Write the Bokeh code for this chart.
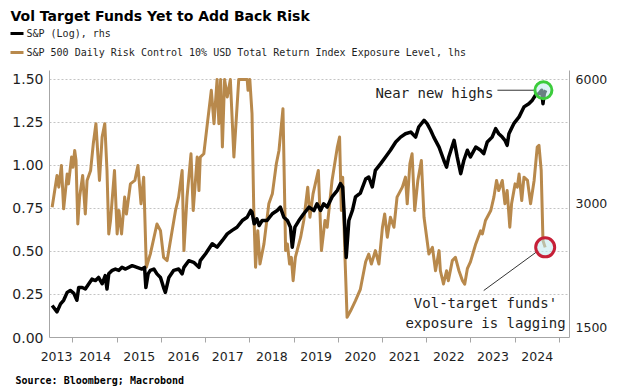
from bokeh.plotting import figure
from bokeh.layouts import column
from bokeh.models import (Range1d, LogScale, LogAxis, FixedTicker, CustomJSTickFormatter,
                          NumeralTickFormatter, Label)
from bokeh.embed import file_html
from bokeh.resources import INLINE

# ---------------- data ----------------
sp_years = [2013.53, 2013.64, 2013.72, 2013.79, 2013.87, 2013.94, 2014.02, 2014.09, 2014.13, 2014.21,
            2014.28, 2014.36, 2014.43, 2014.51, 2014.58, 2014.66, 2014.73, 2014.77, 2014.81, 2014.89,
            2014.96, 2015.04, 2015.11, 2015.19, 2015.34, 2015.45, 2015.56, 2015.62, 2015.65, 2015.70,
            2015.75, 2015.83, 2015.90, 2015.98, 2016.05, 2016.09, 2016.17, 2016.28, 2016.39, 2016.47,
            2016.51, 2016.62, 2016.73, 2016.85, 2016.88, 2017.00, 2017.15, 2017.26, 2017.38, 2017.49,
            2017.60, 2017.71, 2017.83, 2017.94, 2018.02, 2018.05, 2018.10, 2018.16, 2018.21, 2018.28,
            2018.39, 2018.51, 2018.62, 2018.69, 2018.77, 2018.85, 2018.92, 2018.96, 2019.02, 2019.11,
            2019.22, 2019.34, 2019.45, 2019.52, 2019.60, 2019.67, 2019.75, 2019.86, 2019.98, 2020.05,
            2020.10, 2020.13, 2020.18, 2020.24, 2020.32, 2020.39, 2020.50, 2020.62, 2020.69, 2020.77,
            2020.84, 2020.96, 2021.07, 2021.18, 2021.30, 2021.41, 2021.52, 2021.64, 2021.75, 2021.82,
            2021.94, 2022.01, 2022.09, 2022.16, 2022.28, 2022.39, 2022.45, 2022.50, 2022.62, 2022.69,
            2022.77, 2022.84, 2022.92, 2022.99, 2023.03, 2023.11, 2023.22, 2023.29, 2023.37, 2023.48,
            2023.56, 2023.63, 2023.71, 2023.77, 2023.82, 2023.86, 2023.97, 2024.09, 2024.20, 2024.31,
            2024.39, 2024.46, 2024.54, 2024.60, 2024.63, 2024.66, 2024.69]
sp_level = [1696, 1637, 1711, 1746, 1825, 1845, 1815, 1746, 1875, 1875,
            1860, 1915, 1965, 1950, 1984, 1915, 2004, 1860, 2024, 2064,
            2079, 2064, 2099, 2079, 2119, 2099, 2079, 2099, 1875, 2024,
            2064, 2079, 2024, 1984, 1875, 1825, 1984, 2064, 2079, 2024,
            2099, 2179, 2159, 2099, 2179, 2265, 2395, 2350, 2440, 2531,
            2581, 2627, 2727, 2778, 2884, 2859, 2677, 2753, 2652, 2727,
            2727, 2833, 2884, 2940, 2778, 2727, 2627, 2350, 2627, 2727,
            2833, 2940, 2884, 2995, 2884, 2995, 2940, 3112, 3229, 3351,
            3290, 2884, 2219, 2727, 2884, 3112, 3180, 3440, 3478, 3290,
            3611, 3749, 3892, 4040, 4230, 4348, 4431, 4472, 4348, 4601,
            4776, 4688, 4518, 4348, 4112, 3815, 3677, 3892, 4271, 3892,
            3544, 3815, 4040, 3892, 3963, 4112, 4040, 3963, 4230, 4348,
            4559, 4431, 4348, 4271, 4153, 4431, 4688, 4869, 5148, 5241,
            5345, 5495, 5547, 5651, 5241, 5547, 5651]

exp_years = [2013.53, 2013.64, 2013.68, 2013.74, 2013.79, 2013.87, 2013.90, 2013.97, 2014.00, 2014.04,
             2014.07, 2014.11, 2014.15, 2014.22, 2014.28, 2014.32, 2014.40, 2014.46, 2014.52, 2014.60,
             2014.66, 2014.72, 2014.77, 2014.81, 2014.85, 2014.94, 2015.00, 2015.04, 2015.10, 2015.17,
             2015.21, 2015.30, 2015.40, 2015.47, 2015.54, 2015.60, 2015.66, 2015.75, 2015.90, 2015.98,
             2016.05, 2016.13, 2016.32, 2016.39, 2016.47, 2016.51, 2016.58, 2016.67, 2016.72, 2016.81,
             2016.85, 2016.88, 2016.96, 2017.04, 2017.13, 2017.19, 2017.26, 2017.30, 2017.34, 2017.38,
             2017.43, 2017.49, 2017.56, 2017.64, 2017.75, 2017.94, 2017.96, 2018.00, 2018.05, 2018.09,
             2018.13, 2018.18, 2018.23, 2018.32, 2018.43, 2018.51, 2018.60, 2018.66, 2018.75, 2018.81,
             2018.85, 2018.90, 2018.94, 2018.98, 2019.03, 2019.15, 2019.22, 2019.31, 2019.36, 2019.43,
             2019.55, 2019.62, 2019.70, 2019.75, 2019.86, 2019.98, 2020.03, 2020.07, 2020.10, 2020.15,
             2020.20, 2020.28, 2020.39, 2020.50, 2020.62, 2020.69, 2020.75, 2020.84, 2020.92, 2021.00,
             2021.05, 2021.11, 2021.18, 2021.26, 2021.33, 2021.45, 2021.52, 2021.56, 2021.62, 2021.67,
             2021.73, 2021.80, 2021.88, 2021.94, 2022.05, 2022.13, 2022.20, 2022.28, 2022.31, 2022.38,
             2022.45, 2022.49, 2022.58, 2022.65, 2022.73, 2022.81, 2022.86, 2022.92, 2022.99, 2023.11,
             2023.22, 2023.26, 2023.33, 2023.45, 2023.52, 2023.58, 2023.63, 2023.71, 2023.77, 2023.82,
             2023.88, 2023.92, 2024.00, 2024.05, 2024.09, 2024.15, 2024.20, 2024.28, 2024.35, 2024.43,
             2024.50, 2024.54, 2024.59, 2024.63, 2024.68]
exposure = [0.757, 0.942, 0.874, 1.000, 0.748, 0.951, 0.893, 1.049, 0.990, 1.087,
            1.029, 0.660, 0.816, 0.942, 0.718, 0.913, 0.971, 1.126, 1.243, 0.913,
            1.165, 1.243, 0.971, 0.602, 0.680, 0.971, 0.602, 0.738, 0.602, 0.816,
            0.718, 0.893, 0.913, 1.000, 0.777, 0.932, 0.408, 0.485, 0.660, 0.621,
            0.466, 0.447, 0.738, 0.816, 0.971, 0.505, 0.816, 1.068, 0.738, 1.049,
            0.854, 1.049, 1.068, 1.243, 1.437, 1.243, 1.500, 1.243, 1.500, 1.107,
            1.500, 1.398, 1.500, 1.049, 1.500, 1.500, 1.437, 1.500, 1.301, 0.738,
            0.408, 0.621, 0.427, 0.544, 0.777, 0.835, 1.010, 1.087, 1.330, 0.505,
            0.544, 0.427, 0.466, 0.330, 0.466, 0.583, 0.680, 0.874, 0.699, 0.835,
            0.971, 0.505, 0.680, 0.641, 0.913, 1.107, 1.165, 0.738, 0.932, 0.485,
            0.117, 0.155, 0.214, 0.280, 0.440, 0.485, 0.427, 0.505, 0.427, 0.641,
            0.718, 0.583, 0.699, 0.641, 0.816, 0.874, 0.932, 0.777, 1.010, 1.068,
            0.738, 0.913, 1.029, 0.699, 0.485, 0.524, 0.388, 0.505, 0.388, 0.311,
            0.388, 0.330, 0.447, 0.466, 0.388, 0.330, 0.310, 0.400, 0.440, 0.544,
            0.620, 0.602, 0.680, 0.738, 0.816, 0.913, 0.854, 0.913, 0.777, 0.854,
            0.641, 0.777, 0.893, 0.874, 0.951, 0.796, 0.932, 0.913, 0.777, 0.913,
            1.107, 1.117, 0.971, 0.563, 0.524]

left_ticks = [0.0, 0.25, 0.5, 0.75, 1.0, 1.25, 1.5]
right_ticks = [1500, 3000, 6000]
year_bounds = [2014, 2015, 2016, 2017, 2018, 2019, 2020, 2021, 2022, 2023, 2024, 2025]
year_label_pos = [2013.63, 2014.5, 2015.5, 2016.5, 2017.5, 2018.5, 2019.5, 2020.5,
                  2021.5, 2022.5, 2023.5, 2024.5]

TITLE = "Vol Target Funds Yet to Add Back Risk"
SP_NAME = "S&P (Log), rhs"
EXP_NAME = "S&P 500 Daily Risk Control 10% USD Total Return Index Exposure Level, lhs"
SOURCE = "Source: Bloomberg; Macrobond"

# ---------------- styling ----------------
TAN = "#b8894c"
AXIS_GREY = "#a6a6a6"
TXT = "#1e1e1e"
MONO = "DejaVu Sans Mono"
SANS = "DejaVu Sans"
W = 630


def no_align(f):
    try:
        f.frame_align = False
    except Exception:
        pass


def blank(height):
    f = figure(width=W, height=height, output_backend="svg", toolbar_location=None,
               x_range=Range1d(0, W), y_range=Range1d(height, 0),
               x_axis_type=None, y_axis_type=None, min_border=0)
    f.title.visible = False
    f.outline_line_color = None
    f.grid.visible = False
    no_align(f)
    return f


# ---------------- header: title + legend ----------------
head = blank(70)
head.add_layout(Label(x=10, y=15, text=TITLE, text_align="left", text_baseline="alphabetic",
                      text_font=SANS, text_font_style="bold", text_font_size="14px",
                      text_color="black"))
head.segment(x0=[10], y0=[33], x1=[23], y1=[33], line_color="black", line_width=3)
head.segment(x0=[10], y0=[52], x1=[23], y1=[52], line_color=TAN, line_width=3)
head.add_layout(Label(x=26, y=33, text=SP_NAME, text_baseline="middle", text_font=MONO,
                      text_font_size="10px", text_color=TXT))
head.add_layout(Label(x=26, y=52, text=EXP_NAME, text_baseline="middle", text_font=MONO,
                      text_font_size="10px", text_color=TXT))

# ---------------- main chart ----------------
p = figure(width=W, height=297, output_backend="svg", toolbar_location=None,
           x_range=Range1d(2013.47, 2025.23), y_range=Range1d(0, 1.552),
           min_border_left=49, min_border_right=61, min_border_top=0, min_border_bottom=30)
p.title.visible = False
p.outline_line_color = None
no_align(p)

p.extra_y_ranges = {"sp": Range1d(1418, 6310)}
p.extra_y_scales = {"sp": LogScale()}

yax = p.yaxis[0]
yax.ticker = FixedTicker(ticks=left_ticks)
yax.formatter = NumeralTickFormatter(format="0.00")
yax.axis_line_color = AXIS_GREY
yax.major_tick_line_color = None
yax.major_tick_out = 0
yax.major_tick_in = 0
yax.minor_tick_line_color = None
yax.major_label_text_font = SANS
yax.major_label_text_font_size = "14px"
yax.major_label_text_color = TXT
yax.major_label_standoff = 6

xax = p.xaxis[0]
xax.ticker = FixedTicker(ticks=year_label_pos, minor_ticks=year_bounds)
xax.formatter = CustomJSTickFormatter(code="return Math.floor(tick).toString();")
xax.axis_line_color = AXIS_GREY
xax.major_tick_line_color = None
xax.major_tick_out = 0
xax.major_tick_in = 0
xax.minor_tick_line_color = AXIS_GREY
xax.minor_tick_out = 5
xax.minor_tick_in = 0
xax.major_label_text_font = SANS
xax.major_label_text_font_size = "12.5px"
xax.major_label_text_color = TXT
xax.major_label_standoff = 9

rax = LogAxis(y_range_name="sp", ticker=FixedTicker(ticks=right_ticks),
              formatter=NumeralTickFormatter(format="0"))
rax.axis_line_color = AXIS_GREY
rax.major_tick_line_color = None
rax.major_tick_out = 0
rax.major_tick_in = 0
rax.minor_tick_line_color = None
rax.major_label_text_font = SANS
rax.major_label_text_font_size = "12.5px"
rax.major_label_text_color = TXT
rax.major_label_standoff = 6
p.add_layout(rax, "right")

p.xgrid.visible = False
p.ygrid.ticker = FixedTicker(ticks=left_ticks[1:])
p.ygrid.grid_line_color = "#c4c4c4"
p.ygrid.grid_line_dash = "2 2"
p.ygrid.grid_line_width = 1

r_exp = p.line(exp_years, exposure, line_color=TAN, line_width=3, line_join="round")
r_sp = p.line(sp_years, sp_level, line_color="black", line_width=3.5, line_join="round",
              y_range_name="sp")

# callouts
p.segment(x0=[2023.60], y0=[sp_level[-1]], x1=[sp_years[-1] - 0.22], y1=[sp_level[-1]],
          line_color="#333333", line_width=1, y_range_name="sp")
p.scatter(x=[sp_years[-1] - 0.05], y=[sp_level[-1]], y_range_name="sp", marker="circle", size=17,
          line_color="#3ccc3c", line_width=3, fill_color="#bfe9ef", fill_alpha=0.55)
p.segment(x0=[2023.29], y0=[0.273], x1=[exp_years[-1] - 0.16], y1=[exposure[-1] - 0.02],
          line_color="#333333", line_width=1)
p.scatter(x=[exp_years[-1]], y=[exposure[-1]], marker="circle", size=19,
          line_color="#c62038", line_width=3, fill_color="#bfe9ef", fill_alpha=0.55)

p.add_layout(Label(x=2023.51, y=sp_level[-1], y_range_name="sp", y_offset=-3, text="Near new highs",
                   text_align="right", text_baseline="middle", text_font=MONO,
                   text_font_size="14px", text_color=TXT))
p.add_layout(Label(x=2023.33, y=0.198, text="Vol-target funds'", text_align="center",
                   text_baseline="middle", text_font=MONO, text_font_size="14px", text_color=TXT))
p.add_layout(Label(x=2023.33, y=0.087, text="exposure is lagging", text_align="center",
                   text_baseline="middle", text_font=MONO, text_font_size="14px", text_color=TXT))

# ---------------- footer: source ----------------
foot = blank(22)
foot.add_layout(Label(x=15, y=13, text=SOURCE, text_align="left", text_baseline="alphabetic",
                      text_font=MONO, text_font_style="bold", text_font_size="10px",
                      text_color="black"))

layout = column(head, p, foot, spacing=0)
open("out.html", "w").write(file_html(layout, INLINE))
